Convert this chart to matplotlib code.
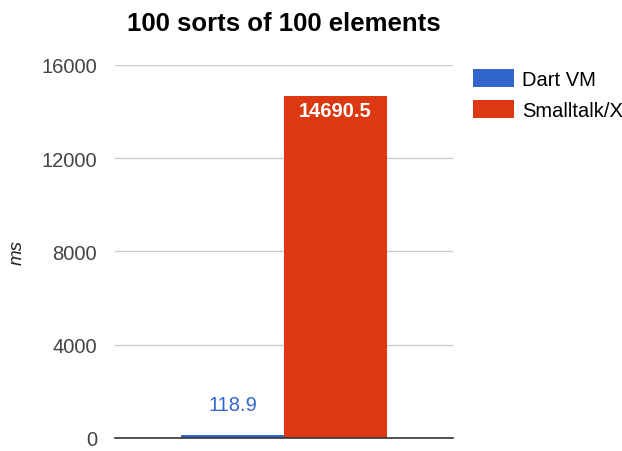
import matplotlib.pyplot as plt

# chart data
series = ["Dart VM", "Smalltalk/X"]
values = [118.9, 14690.5]
colors = ["#3366cc", "#dc3912"]
yticks = [0, 4000, 8000, 12000, 16000]

plt.rcParams["font.family"] = ["Liberation Sans", "DejaVu Sans"]

fig = plt.figure(figsize=(6.22, 4.52), dpi=100)
ax = fig.add_axes([0.185, 0.029, 0.543, 0.825])

positions = [-0.5, 0.5]
bars = ax.bar(positions, values, width=1.0, color=colors, zorder=3)

ax.set_xlim(-1.64, 1.64)
ax.set_ylim(0, 16000)
ax.set_yticks(yticks)
ax.set_yticklabels([str(t) for t in yticks], fontsize=14.5, color="#444444")
ax.set_xticks([])
ax.tick_params(axis="y", length=0, pad=13)
ax.grid(axis="y", color="#cccccc", linewidth=1, zorder=0)
for s in ["top", "right", "left"]:
    ax.spines[s].set_visible(False)
ax.spines["bottom"].set_color("#333333")
ax.spines["bottom"].set_linewidth(1.2)
ax.spines["bottom"].set_zorder(4)

ax.set_ylabel("ms", fontsize=13.5, style="italic", color="#222222", labelpad=11)
ax.set_title("100 sorts of 100 elements", fontsize=18.5, fontweight="bold", pad=25)

# value labels
ax.text(positions[0], values[0] + 1300, "118.9", ha="center", va="center",
        fontsize=14.5, color=colors[0])
ax.text(positions[1], values[1] - 650, "14690.5", ha="center", va="center",
        fontsize=14.5, color="white", fontweight="bold", zorder=5)

for b, name in zip(bars, series):
    b.set_label(name)
ax.legend(loc="upper left", bbox_to_anchor=(0.748, 0.862),
          bbox_transform=fig.transFigure, frameon=False, fontsize=14.5,
          handlelength=2.0, handleheight=1.0, handletextpad=0.4,
          labelspacing=0.55, borderaxespad=0)

fig.savefig("out.png", dpi=100)
